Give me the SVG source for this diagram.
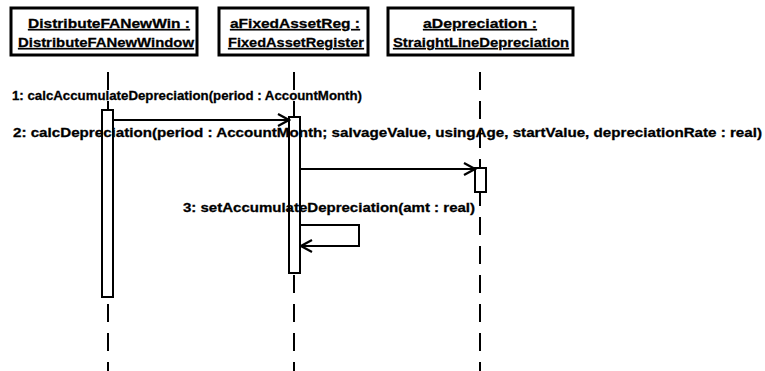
<svg xmlns="http://www.w3.org/2000/svg" width="765" height="371" viewBox="0 0 765 371">
<style>
.box{fill:#fff;stroke:#000;stroke-width:3}
.lbl{font-family:"Liberation Sans",Arial,sans-serif;font-weight:bold;font-size:13.5px;fill:#000;stroke:#000;stroke-width:0.3}
.obj{text-anchor:middle;text-decoration:underline}
.life{stroke:#000;stroke-width:2;stroke-dasharray:18 11;fill:none}
.act{fill:#fff;stroke:#000;stroke-width:2}
.msg{stroke:#000;stroke-width:2;fill:none}
</style>
<defs>
<marker id="open" markerWidth="14" markerHeight="14" refX="12" refY="7" orient="auto" markerUnits="userSpaceOnUse">
<path d="M1,1 L12,7 L1,13" fill="none" stroke="#000" stroke-width="2.2"/>
</marker>
</defs>
<rect width="765" height="371" fill="#fff"/>
<g id="lifelines">
<line class="life" x1="108" y1="72" x2="108" y2="371"/>
<line class="life" x1="294" y1="72" x2="294" y2="371"/>
<line class="life" x1="480" y1="72" x2="480" y2="371"/>
</g>
<g id="node-distribute">
<rect class="box" x="11" y="8" width="186" height="47"/>
<text class="lbl obj" x="109" y="28" textLength="162" lengthAdjust="spacingAndGlyphs">DistributeFANewWin :</text>
<text class="lbl obj" x="106" y="47" textLength="176" lengthAdjust="spacingAndGlyphs">DistributeFANewWindow</text>
</g>
<g id="node-asset">
<rect class="box" x="219" y="8" width="149" height="47"/>
<text class="lbl obj" x="295" y="28" textLength="130" lengthAdjust="spacingAndGlyphs">aFixedAssetReg :</text>
<text class="lbl obj" x="296" y="47" textLength="136" lengthAdjust="spacingAndGlyphs">FixedAssetRegister</text>
</g>
<g id="node-depr">
<rect class="box" x="388" y="8" width="185" height="47"/>
<text class="lbl obj" x="480" y="28" textLength="114" lengthAdjust="spacingAndGlyphs">aDepreciation :</text>
<text class="lbl obj" x="481" y="47" textLength="176" lengthAdjust="spacingAndGlyphs">StraightLineDepreciation</text>
</g>
<g id="activations">
<rect class="act" x="102" y="110" width="11" height="187"/>
<rect class="act" x="289" y="117" width="11" height="156"/>
<rect class="act" x="475" y="168" width="11" height="24"/>
</g>
<g id="connectors">
<line class="msg" x1="113" y1="120" x2="289" y2="120" marker-end="url(#open)"/>
<line class="msg" x1="300" y1="169" x2="475" y2="169" marker-end="url(#open)"/>
<polyline class="msg" points="300,225 359,225 359,246 301,246" marker-end="url(#open)"/>
</g>
<g id="labels">
<text class="lbl" x="12" y="100" textLength="350" lengthAdjust="spacingAndGlyphs">1: calcAccumulateDepreciation(period : AccountMonth)</text>
<text class="lbl" x="13" y="137" textLength="749" lengthAdjust="spacingAndGlyphs">2: calcDepreciation(period : AccountMonth; salvageValue, usingAge, startValue, depreciationRate : real)</text>
<text class="lbl" x="183" y="212" textLength="292" lengthAdjust="spacingAndGlyphs">3: setAccumulateDepreciation(amt : real)</text>
</g>
</svg>
